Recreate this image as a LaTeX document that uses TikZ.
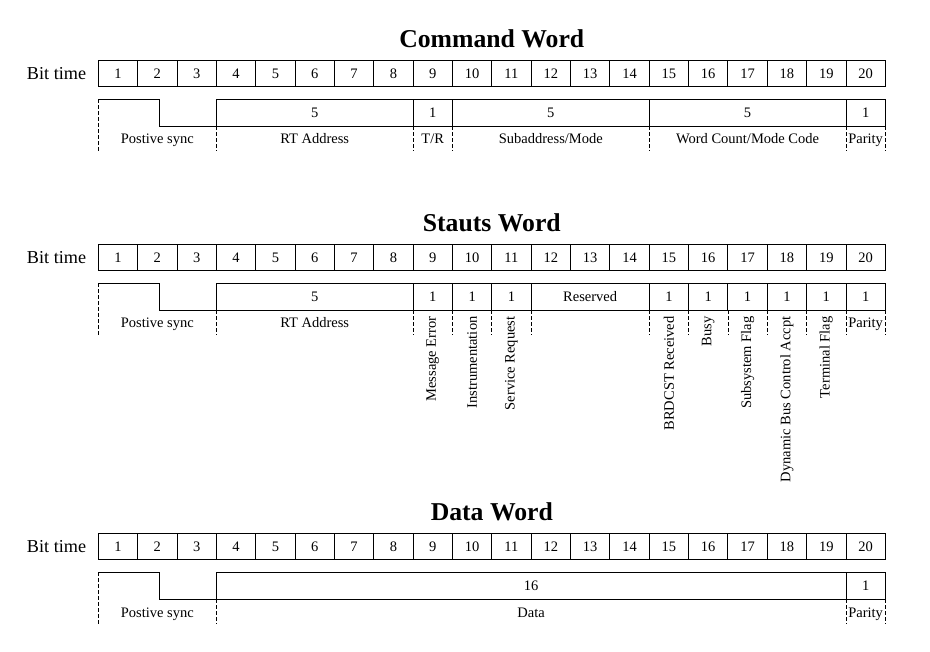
\documentclass[tikz,border=0pt]{standalone}
\usepackage{fontspec}
\setmainfont{Liberation Serif}
% bit-cell geometry
\newcommand\xo{98.3}
\newcommand\cellw{39.35}
\newcommand\lblfont{\fontsize{14.5}{17}\selectfont}
\newcommand\bitlblfont{\fontsize{18.2}{21}\selectfont}
\newcommand\wtitlefont{\fontsize{25.7}{29}\selectfont\bfseries}
\tikzset{
  frame/.style={line width=0.9pt},
  tick/.style={line width=0.75pt,dash pattern=on 4pt off 2pt},
  cellbox/.style={draw,line width=0.9pt,inner sep=0pt,minimum width=39.35pt,minimum height=26pt,
    text height=9.5pt,text depth=0pt,font=\lblfont},
  fieldbox/.style={draw,line width=0.9pt,inner sep=0pt,minimum height=27pt,
    text height=9.5pt,text depth=0pt,font=\lblfont},
  lbl/.style={inner sep=0pt,anchor=base,font=\lblfont},
  rlbl/.style={inner sep=0pt,font=\lblfont,rotate=90,anchor=east},
  wtitle/.style={inner sep=0pt,font=\wtitlefont},
}
% row of 20 numbered bit cells with its "Bit time" caption
\newcommand\bitrow[1]{%
  \node[anchor=base east,font=\bitlblfont,inner sep=0pt] (#1-bt) at (86.3,19.3) {Bit time};
  \foreach \i in {1,...,20}{
    \node[cellbox] (#1-b\i) at ({\xo+\cellw*(\i-0.5)},13) {\i};
  }%
}
% positive sync waveform over bits 1-3
\newcommand\syncshape[1]{%
  \coordinate (#1-s0) at (\xo,39);
  \coordinate (#1-s1) at (159.3,39);
  \coordinate (#1-s2) at (159.3,66);
  \coordinate (#1-s3) at ({\xo+3*\cellw},66);
  \coordinate (#1-s4) at (\xo,90.5);
  \draw[frame] (#1-s0) -- (#1-s1) -- (#1-s2) -- (#1-s3);
  \draw[tick] (#1-s0) -- (#1-s4);
  \node[lbl] (#1-sync) at ({\xo+1.5*\cellw},83.7) {Postive sync};
}
% field box spanning bit edges #2..#3
\newcommand\fld[4]{%
  \node[fieldbox,minimum width={(#3-#2)*\cellw*1pt}] (#1) at ({\xo+\cellw*(#2+#3)/2},52.5) {#4};
}
% field caption below the box
\newcommand\flbl[4]{%
  \node[lbl] (#1) at ({\xo+\cellw*(#2+#3)/2},83.7) {#4};
}
% dashed separators below the field boxes
\newcommand\ticks[1]{%
  \foreach \k in {#1}{
    \draw[tick] ({\xo+\cellw*\k},66) -- ({\xo+\cellw*\k},90.5);
  }%
}
\begin{document}
\begin{tikzpicture}[x=1pt,y=-1pt]
\useasboundingbox (0,0) rectangle (930,652);

% ---------------- Command word ----------------
\begin{scope}[shift={(0,60.3)}]
  \node[wtitle] (cmd-title) at (491.8,-21.3) {Command Word};
  \bitrow{cmd}
  \syncshape{cmd}
  \fld{cmd-rt}{3}{8}{5}
  \fld{cmd-tr}{8}{9}{1}
  \fld{cmd-sa}{9}{14}{5}
  \fld{cmd-wc}{14}{19}{5}
  \fld{cmd-p}{19}{20}{1}
  \ticks{3,8,9,14,19,20}
  \flbl{cmd-rtl}{3}{8}{RT Address}
  \flbl{cmd-trl}{8}{9}{T/R}
  \flbl{cmd-sal}{9}{14}{Subaddress/Mode}
  \flbl{cmd-wcl}{14}{19}{Word Count/Mode Code}
  \flbl{cmd-pl}{19}{20}{Parity}
\end{scope}

% ---------------- Status word ----------------
\begin{scope}[shift={(0,244.3)}]
  \node[wtitle] (sts-title) at (491.8,-21.3) {Stauts Word};
  \bitrow{sts}
  \syncshape{sts}
  \fld{sts-rt}{3}{8}{5}
  \fld{sts-me}{8}{9}{1}
  \fld{sts-in}{9}{10}{1}
  \fld{sts-sr}{10}{11}{1}
  \fld{sts-rs}{11}{14}{Reserved}
  \fld{sts-br}{14}{15}{1}
  \fld{sts-bu}{15}{16}{1}
  \fld{sts-sf}{16}{17}{1}
  \fld{sts-db}{17}{18}{1}
  \fld{sts-tf}{18}{19}{1}
  \fld{sts-p}{19}{20}{1}
  \ticks{3,8,9,10,11,14,15,16,17,18,19,20}
  \flbl{sts-rtl}{3}{8}{RT Address}
  \flbl{sts-pl}{19}{20}{Parity}
  \node[rlbl] (sts-mel) at ({\xo+\cellw*8.5},72) {Message Error};
  \node[rlbl] (sts-inl) at ({\xo+\cellw*9.5},72) {Instrumentation};
  \node[rlbl] (sts-srl) at ({\xo+\cellw*10.5},72) {Service Request};
  \node[rlbl] (sts-brl) at ({\xo+\cellw*14.5},72) {BRDCST Received};
  \node[rlbl] (sts-bul) at ({\xo+\cellw*15.5},72) {Busy};
  \node[rlbl] (sts-sfl) at ({\xo+\cellw*16.5},72) {Subsystem Flag};
  \node[rlbl] (sts-dbl) at ({\xo+\cellw*17.5},72) {Dynamic Bus Control Accpt};
  \node[rlbl] (sts-tfl) at ({\xo+\cellw*18.5},72) {Terminal Flag};
\end{scope}

% ---------------- Data word ----------------
\begin{scope}[shift={(0,533.3)}]
  \node[wtitle] (dat-title) at (491.8,-21.3) {Data Word};
  \bitrow{dat}
  \syncshape{dat}
  \fld{dat-d}{3}{19}{16}
  \fld{dat-p}{19}{20}{1}
  \ticks{3,19,20}
  \flbl{dat-dl}{3}{19}{Data}
  \flbl{dat-pl}{19}{20}{Parity}
\end{scope}
\end{tikzpicture}
\end{document}
